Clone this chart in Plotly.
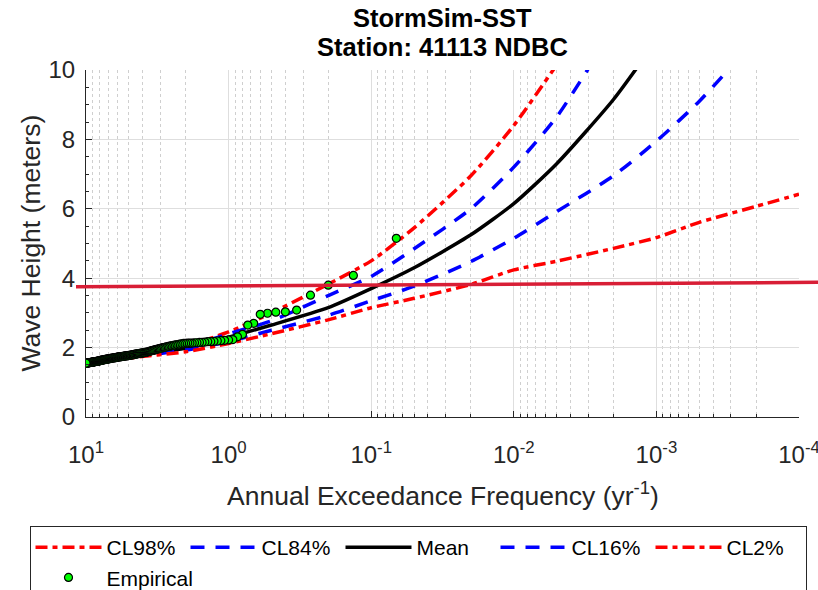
import plotly.graph_objects as go

# ---------------- data ----------------
curve_freq = [10, 5, 2, 1, 0.5, 0.2, 0.1, 0.05, 0.02, 0.01, 0.005, 0.002, 0.001, 0.0005, 0.0002, 0.0001]
cl98 = [1.55, 1.75, 2.05, 2.45, 3.0, 3.83, 4.5, 5.45, 6.95, 8.4, 10.15]
cl84 = [1.55, 1.74, 2.0, 2.4, 2.77, 3.5, 4.05, 4.85, 6.0, 7.2, 8.65, 11.2]
mean = [1.55, 1.76, 1.98, 2.3, 2.65, 3.15, 3.7, 4.3, 5.25, 6.15, 7.3, 9.15, 10.85]
cl16 = [1.55, 1.72, 1.93, 2.17, 2.5, 2.93, 3.35, 3.77, 4.48, 5.15, 5.92, 6.95, 7.95, 9.1, 10.9]
cl2 = [1.55, 1.7, 1.88, 2.12, 2.4, 2.8, 3.15, 3.42, 3.82, 4.24, 4.49, 4.86, 5.17, 5.61, 6.07, 6.42]

record_years = 15
emp_heights = [
    5.15, 4.08, 3.80, 3.51, 3.08, 3.03, 3.02, 2.99, 2.96, 2.70,
    2.65, 2.38, 2.31, 2.23, 2.22, 2.21, 2.20, 2.19, 2.18, 2.17,
    2.17, 2.16, 2.15, 2.15, 2.14, 2.14, 2.13, 2.13, 2.13, 2.12,
    2.12, 2.11, 2.10, 2.09, 2.08, 2.07, 2.06, 2.05, 2.04, 2.03,
    2.02, 2.01, 2.00, 1.99, 1.98, 1.97, 1.96, 1.95, 1.94, 1.93,
    1.92, 1.91, 1.90, 1.89, 1.88, 1.87, 1.86, 1.86, 1.85, 1.85,
    1.84, 1.84, 1.83, 1.83, 1.82, 1.82, 1.81, 1.81, 1.80, 1.80,
    1.79, 1.79, 1.78, 1.78, 1.78, 1.77, 1.77, 1.76, 1.76, 1.76,
    1.75, 1.75, 1.75, 1.74, 1.74, 1.74, 1.73, 1.73, 1.73, 1.72,
    1.72, 1.72, 1.71, 1.71, 1.71, 1.70, 1.70, 1.70, 1.69, 1.69,
    1.69, 1.68, 1.68, 1.68, 1.67, 1.67, 1.67, 1.66, 1.66, 1.66,
    1.65, 1.65, 1.65, 1.64, 1.64, 1.64, 1.63, 1.63, 1.63, 1.62,
    1.62, 1.62, 1.61, 1.61, 1.61, 1.60, 1.60, 1.60, 1.60, 1.59,
    1.59, 1.59, 1.59, 1.58, 1.58, 1.58, 1.58, 1.57, 1.57, 1.57,
    1.57, 1.56, 1.56, 1.56, 1.56, 1.56, 1.55, 1.55, 1.55, 1.55,
]
emp_freq = [(i + 1) / record_years for i in range(len(emp_heights))]

threshold_line = [3.755, 3.88]

x_tick_vals = [10, 1, 0.1, 0.01, 0.001, 0.0001]
x_tick_text = ["10<sup>1</sup>", "10<sup>0</sup>", "10<sup>-1</sup>",
               "10<sup>-2</sup>", "10<sup>-3</sup>", "10<sup>-4</sup>"]
y_tick_vals = [0, 2, 4, 6, 8, 10]

title_lines = ["StormSim-SST", "Station: 41113 NDBC"]
x_title = "Annual Exceedance Frequency (yr<sup>-1</sup>)"
y_title = "Wave Height (meters)"

# ---------------- figure ----------------
FONT = "Liberation Sans, Arial, Helvetica, sans-serif"
TXT = "#262626"

fig = go.Figure()

series = [
    ("CL98%", cl98, "#ff0000", "12px,5px,5px,5px"),
    ("CL84%", cl84, "#0000ff", "14px,11px"),
    ("Mean", mean, "#000000", "solid"),
    ("CL16%", cl16, "#0000ff", "14px,11px"),
    ("CL2%", cl2, "#ff0000", "12px,5px,5px,5px"),
]
for name, vals, col, dash in series:
    fig.add_trace(go.Scatter(
        x=curve_freq[:len(vals)], y=vals, mode="lines", name=name,
        line=dict(color=col, width=3.5, dash=dash, shape="spline", smoothing=0.6),
    ))

fig.add_trace(go.Scatter(
    x=emp_freq, y=emp_heights, mode="markers", name="Empirical",
    marker=dict(color="#00ff00", size=8, line=dict(color="#000000", width=1.2)),
))

# plot area geometry (pixels)
L, R, T, B = 86, 799, 70, 417
W, H = 818, 590
pw, ph = R - L, B - T

def px_x(p):
    return (p - L) / pw

def px_y(p):
    return (B - p) / ph

fig.add_shape(type="line", xref="paper", yref="y",
              x0=px_x(76), x1=px_x(820), y0=threshold_line[0], y1=threshold_line[1],
              line=dict(color="#d81e36", width=3.5), layer="above")

minor_vals = []
for d in [0.0001, 0.001, 0.01, 0.1, 1]:
    for m in range(2, 10):
        minor_vals.append(m * d)

fig.update_xaxes(
    type="log", range=[1, -4],
    tickmode="array", tickvals=x_tick_vals, ticktext=x_tick_text,
    ticks="inside", ticklen=6, tickcolor=TXT, tickwidth=1,
    ticklabelstandoff=16, ticklabeloverflow="allow",
    showline=True, linecolor=TXT, linewidth=1,
    showgrid=True, gridcolor="#dedede", gridwidth=1,
    tickfont=dict(family=FONT, size=24, color=TXT),
    zeroline=False, automargin=False,
    minor=dict(tickmode="array", tickvals=minor_vals, ticks="inside", ticklen=3,
               tickcolor=TXT, showgrid=True, griddash="dot", gridcolor="#cfcfcf", gridwidth=1),
)
fig.update_yaxes(
    range=[0, 10], tickmode="array", tickvals=y_tick_vals,
    ticks="inside", ticklen=6, tickcolor=TXT, tickwidth=1,
    ticklabelstandoff=5, ticklabeloverflow="allow",
    showline=True, linecolor=TXT, linewidth=1,
    showgrid=True, gridcolor="#dedede", gridwidth=1,
    tickfont=dict(family=FONT, size=24, color=TXT),
    zeroline=False, automargin=False,
    minor=dict(dtick=0.5, ticks="inside", ticklen=3, tickcolor=TXT, showgrid=False),
)

annotations = [
    dict(text="<b>%s</b>" % title_lines[0], x=0.5, y=px_y(18), xref="paper", yref="paper",
         showarrow=False, font=dict(family=FONT, size=25.5, color="#000000"), yanchor="middle"),
    dict(text="<b>%s</b>" % title_lines[1], x=0.5, y=px_y(47), xref="paper", yref="paper",
         showarrow=False, font=dict(family=FONT, size=25.5, color="#000000"), yanchor="middle"),
    dict(text=x_title, x=0.5, y=px_y(494), xref="paper", yref="paper",
         showarrow=False, font=dict(family=FONT, size=26.5, color=TXT), yanchor="middle"),
    dict(text=y_title, x=px_x(30), y=0.5, xref="paper", yref="paper", textangle=-90,
         showarrow=False, font=dict(family=FONT, size=26.5, color=TXT), xanchor="center"),
]

fig.update_layout(
    width=W, height=H,
    margin=dict(l=L, r=W - R, t=T, b=H - B, pad=0, autoexpand=False),
    paper_bgcolor="white", plot_bgcolor="white",
    font=dict(family=FONT, color=TXT),
    annotations=annotations,
    showlegend=True,
    legend=dict(
        orientation="h", x=px_x(29.5), y=px_y(526), xanchor="left", yanchor="top",
        bordercolor=TXT, borderwidth=1, bgcolor="white",
        font=dict(family=FONT, size=21, color="#000000"),
        itemwidth=66, entrywidth=74, entrywidthmode="pixels",
        traceorder="normal",
    ),
)

fig.write_html("out.html")
